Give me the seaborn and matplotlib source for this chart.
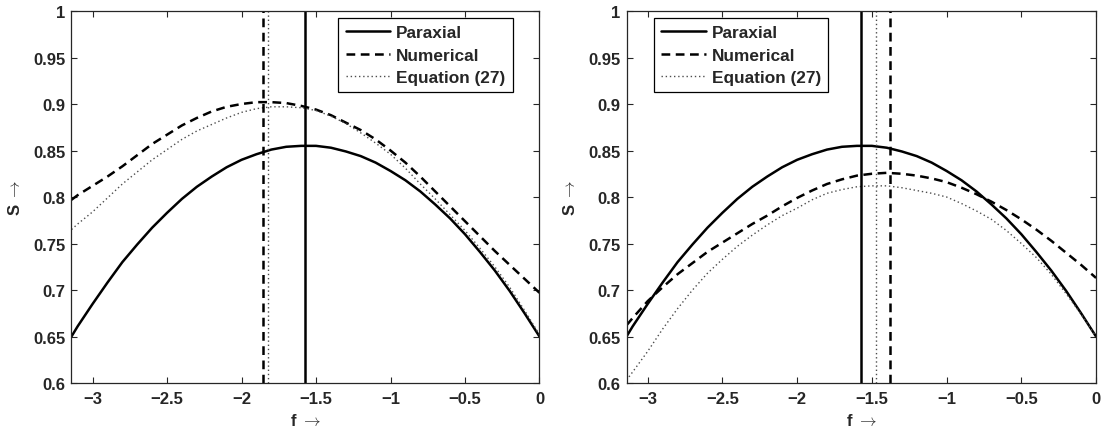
import matplotlib
matplotlib.use("Agg")
import matplotlib.pyplot as plt
import seaborn as sns
import numpy as np

# values (f from -pi to 0)
f_vals = [-3.1416, -3.1, -3.0, -2.9, -2.8, -2.7, -2.6, -2.5, -2.4, -2.3, -2.2,
          -2.1, -2.0, -1.9, -1.8, -1.7, -1.6, -1.5, -1.4, -1.3, -1.2, -1.1,
          -1.0, -0.9, -0.8, -0.7, -0.6, -0.5, -0.4, -0.3, -0.2, -0.1, 0.0]

paraxial = [0.650, 0.661, 0.685, 0.708, 0.730, 0.749, 0.767, 0.783, 0.798, 0.811, 0.822,
            0.832, 0.840, 0.846, 0.851, 0.854, 0.855, 0.855, 0.853, 0.849, 0.844, 0.837,
            0.828, 0.818, 0.806, 0.792, 0.777, 0.760, 0.741, 0.721, 0.699, 0.675, 0.650]

numerical_left = [0.797, 0.802, 0.812, 0.822, 0.833, 0.845, 0.857, 0.867, 0.877, 0.885, 0.892,
                  0.897, 0.900, 0.902, 0.902, 0.901, 0.898, 0.894, 0.888, 0.880, 0.872, 0.862,
                  0.850, 0.837, 0.822, 0.806, 0.790, 0.774, 0.758, 0.742, 0.727, 0.712, 0.697]
equation_left = [0.765, 0.771, 0.784, 0.799, 0.814, 0.827, 0.840, 0.851, 0.862, 0.871, 0.878,
                 0.885, 0.891, 0.895, 0.897, 0.897, 0.896, 0.893, 0.887, 0.879, 0.869, 0.858,
                 0.846, 0.831, 0.814, 0.798, 0.781, 0.764, 0.745, 0.725, 0.703, 0.678, 0.652]

numerical_right = [0.662, 0.670, 0.688, 0.703, 0.717, 0.729, 0.741, 0.751, 0.761, 0.771, 0.780,
                   0.790, 0.799, 0.807, 0.814, 0.819, 0.823, 0.825, 0.826, 0.825, 0.823, 0.820,
                   0.816, 0.810, 0.803, 0.795, 0.786, 0.776, 0.765, 0.753, 0.740, 0.727, 0.713]
equation_right = [0.603, 0.612, 0.634, 0.658, 0.680, 0.700, 0.718, 0.733, 0.747, 0.759, 0.770,
                  0.780, 0.788, 0.797, 0.804, 0.808, 0.811, 0.812, 0.812, 0.810, 0.807, 0.804,
                  0.800, 0.793, 0.785, 0.776, 0.764, 0.750, 0.735, 0.717, 0.696, 0.674, 0.650]

# optimum positions (vertical markers): paraxial, numerical, equation
peaks_left = [-1.571, -1.855, -1.821]
peaks_right = [-1.571, -1.380, -1.474]

series_labels = ["Paraxial", "Numerical", "Equation (27)"]
x_ticks = [-3, -2.5, -2, -1.5, -1, -0.5, 0]
x_ticklabels = ["\u22123", "\u22122.5", "\u22122", "\u22121.5", "\u22121", "\u22120.5", "0"]
y_ticks = [0.6, 0.65, 0.7, 0.75, 0.8, 0.85, 0.9, 0.95, 1.0]
y_ticklabels = ["0.6", "0.65", "0.7", "0.75", "0.8", "0.85", "0.9", "0.95", "1"]

sns.set_style("ticks")
plt.rcParams['font.family'] = ['Liberation Sans', 'DejaVu Sans']
plt.rcParams['font.weight'] = 'bold'
plt.rcParams['font.size'] = 12
plt.rcParams['mathtext.fontset'] = 'cm'

styles = [
    dict(color="black", lw=1.8, linestyle="-"),
    dict(color="black", lw=1.8, linestyle=(0, (3.5, 2.2))),
    dict(color="0.3", lw=1.0, linestyle=(0, (1, 2.0))),
]

fig = plt.figure(figsize=(11.03, 4.35), dpi=100)
ax_left = fig.add_axes([0.0648, 0.1172, 0.4243, 0.8552])
ax_right = fig.add_axes([0.5680, 0.1172, 0.4257, 0.8552])


def draw_panel(ax, numerical, equation, peaks, legend_loc, anchor):
    curves = [paraxial, numerical, equation]
    handles = []
    for ys, st, lab in zip(curves, styles, series_labels):
        sns.lineplot(x=f_vals, y=ys, ax=ax, label=lab, **st)
        handles.append(ax.lines[-1])
    for xv, st in zip(peaks, styles):
        ax.axvline(xv, **st)

    ax.set_xlim(-np.pi, 0)
    ax.set_ylim(0.6, 1.0)
    ax.set_xticks(x_ticks)
    ax.set_xticklabels(x_ticklabels, fontweight="bold")
    ax.set_yticks(y_ticks)
    ax.set_yticklabels(y_ticklabels, fontweight="bold")
    ax.tick_params(direction="in", length=4, width=0.8, top=True, right=True,
                   labelsize=12)
    ax.tick_params(axis="x", pad=6)
    ax.tick_params(axis="y", pad=4.5)
    for sp in ax.spines.values():
        sp.set_visible(True)
        sp.set_linewidth(0.9)
    ax.set_xlabel(r"f $\rightarrow$", fontsize=12, fontweight="bold", labelpad=4)
    ax.set_ylabel(r"S $\rightarrow$", fontsize=12, fontweight="bold", labelpad=7)

    leg = ax.legend(handles=handles, labels=series_labels, loc=legend_loc,
                    bbox_to_anchor=anchor, borderaxespad=0, fancybox=False,
                    framealpha=1, edgecolor="black", handlelength=2.6,
                    handletextpad=0.35, labelspacing=0.42, borderpad=0.42,
                    prop={"weight": "bold", "size": 12.4})
    leg.get_frame().set_linewidth(0.9)


draw_panel(ax_left, numerical_left, equation_left, peaks_left,
           "upper right", (0.943, 0.981))
draw_panel(ax_right, numerical_right, equation_right, peaks_right,
           "upper left", (0.058, 0.981))

fig.savefig("out.png", dpi=100)
plt.close(fig)
